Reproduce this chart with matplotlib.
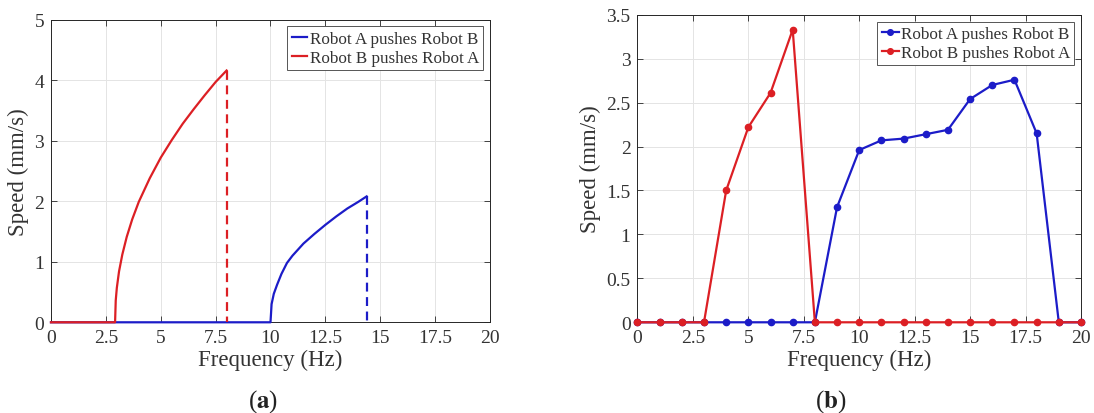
import matplotlib
matplotlib.use("Agg")
import matplotlib.pyplot as plt
from matplotlib.ticker import FuncFormatter

plt.rcParams['font.family'] = ['Liberation Serif', 'DejaVu Serif']
plt.rcParams['mathtext.fontset'] = 'stix'

# (a) model curves
freq_b_pushes_a = [0, 2.92, 2.95, 3.0, 3.1, 3.25, 3.45, 3.7, 4.0, 4.5, 5.0, 5.5, 6.0, 6.5, 7.0, 7.5, 8.0]
speed_b_pushes_a = [0, 0, 0.36, 0.57, 0.84, 1.12, 1.41, 1.70, 1.99, 2.38, 2.72, 3.01, 3.28, 3.52, 3.75, 3.97, 4.16]
freq_a_pushes_b = [0, 10.0, 10.05, 10.15, 10.3, 10.5, 10.75, 11.0, 11.5, 12.0, 12.5, 13.0, 13.5, 14.0, 14.38]
speed_a_pushes_b = [0, 0, 0.30, 0.47, 0.62, 0.80, 0.98, 1.10, 1.30, 1.46, 1.61, 1.75, 1.88, 1.99, 2.08]
drop_b_pushes_a = 8.0
drop_a_pushes_b = 14.38

# (b) measured points
freq_meas = list(range(0, 21))
meas_a_pushes_b = [0, 0, 0, 0, 0, 0, 0, 0, 0, 1.31, 1.96, 2.07, 2.09, 2.14, 2.19, 2.54, 2.70, 2.76, 2.15, 0, 0]
meas_b_pushes_a = [0, 0, 0, 0, 1.50, 2.22, 2.61, 3.33, 0, 0, 0, 0, 0, 0, 0, 0, 0, 0, 0, 0, 0]

labels = ['Robot A pushes Robot B', 'Robot B pushes Robot A']
blue = '#1c1cc8'
red = '#dc1f24'
txt = '#333333'

fig = plt.figure(figsize=(10.94, 4.14), dpi=100)
ax1 = fig.add_axes([0.0466, 0.2191, 0.4013, 0.731])
ax2 = fig.add_axes([0.5827, 0.2191, 0.4054, 0.743])

fmt = FuncFormatter(lambda v, p: '%g' % v)

def style(ax, ymax, ystep):
    ax.set_xlim(0, 20)
    ax.set_ylim(0, ymax)
    ax.set_xticks([i * 2.5 for i in range(9)])
    ax.set_yticks([i * ystep for i in range(int(round(ymax / ystep)) + 1)])
    ax.xaxis.set_major_formatter(fmt)
    ax.yaxis.set_major_formatter(fmt)
    ax.grid(True, color='#e4e4e4', linewidth=0.7)
    ax.set_axisbelow(True)
    ax.tick_params(direction='in', length=4, width=0.6, top=True, right=True,
                   labelsize=14, colors='#262626', labelcolor=txt, pad=5)
    for s in ax.spines.values():
        s.set_linewidth(0.7)
        s.set_color('#262626')
    ax.set_xlabel('Frequency (Hz)', fontsize=16.5, color=txt, labelpad=2)
    ax.set_ylabel('Speed (mm/s)', fontsize=16.5, color=txt, labelpad=4)

# panel (a)
ax1.plot(freq_a_pushes_b, speed_a_pushes_b, color=blue, lw=1.6, label=labels[0],
         clip_on=False, zorder=3)
ax1.plot(freq_b_pushes_a, speed_b_pushes_a, color=red, lw=1.6, label=labels[1],
         clip_on=False, zorder=3)
ax1.plot([drop_b_pushes_a, drop_b_pushes_a], [speed_b_pushes_a[-1], 0], color=red, lw=1.6,
         ls=(0, (4, 2.5)), clip_on=False, zorder=3)
ax1.plot([drop_a_pushes_b, drop_a_pushes_b], [speed_a_pushes_b[-1], 0], color=blue, lw=1.6,
         ls=(0, (4, 2.5)), clip_on=False, zorder=3)
style(ax1, 5, 1)
leg1 = ax1.legend(loc='upper right', fontsize=12.3, handlelength=0.9, handletextpad=0.15,
                  borderpad=0.25, labelspacing=0.18, borderaxespad=0.4, fancybox=False,
                  framealpha=1, edgecolor='#555555')
leg1.get_frame().set_linewidth(0.7)
for t in leg1.get_texts():
    t.set_color(txt)

# panel (b)
ax2.plot(freq_meas, meas_a_pushes_b, color=blue, lw=1.6, marker='o', ms=4.5, label=labels[0],
         clip_on=False, zorder=3)
ax2.plot(freq_meas, meas_b_pushes_a, color=red, lw=1.6, marker='o', ms=4.5, label=labels[1],
         clip_on=False, zorder=3)
style(ax2, 3.5, 0.5)
leg2 = ax2.legend(loc='upper right', fontsize=12.3, handlelength=1.0, handletextpad=0.1,
                  borderpad=0.25, labelspacing=0.18, borderaxespad=0.4, fancybox=False,
                  framealpha=1, edgecolor='#555555', markerscale=0.9)
leg2.get_frame().set_linewidth(0.7)
for t in leg2.get_texts():
    t.set_color(txt)

fig.text(0.2408, 0.03, r'($\mathbf{a}$)', ha='center', va='center', fontsize=18, color='#222222')
fig.text(0.759, 0.03, r'($\mathbf{b}$)', ha='center', va='center', fontsize=18, color='#222222')

fig.savefig('out.png', dpi=100)
